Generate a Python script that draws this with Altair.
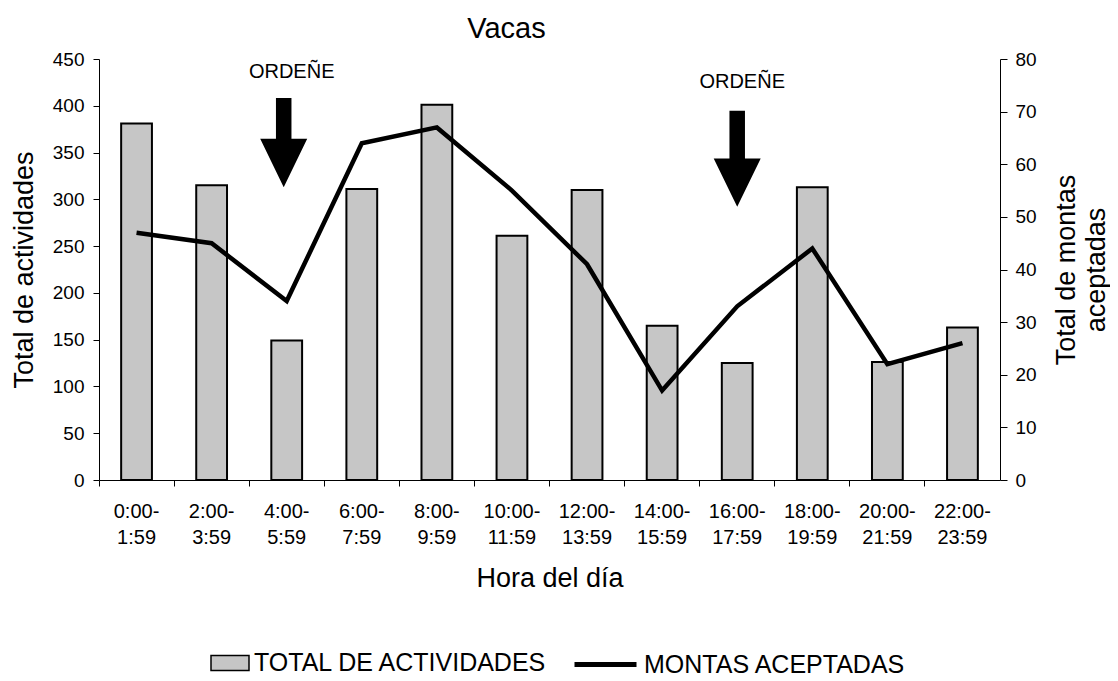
import altair as alt
import pandas as pd

FONT = "Liberation Sans"

# ---- data ----
hours = ["0:00-1:59", "2:00-3:59", "4:00-5:59", "6:00-7:59", "8:00-9:59",
         "10:00-11:59", "12:00-13:59", "14:00-15:59", "16:00-17:59",
         "18:00-19:59", "20:00-21:59", "22:00-23:59"]
total_actividades = [381, 315, 149, 311, 401, 261, 310, 165, 125, 313, 126, 163]
montas_aceptadas = [47, 45, 34, 64, 67, 55, 41, 17, 33, 44, 22, 26]
left_ticks = [0, 50, 100, 150, 200, 250, 300, 350, 400, 450]
right_ticks = [0, 10, 20, 30, 40, 50, 60, 70, 80]
bar_series = "TOTAL DE ACTIVIDADES"
line_series = "MONTAS ACEPTADAS"

# milking annotations (values on the left axis scale)
milking_hours = ["4:00-5:59", "16:00-17:59"]
milking_label = "ORDEÑE"
arrow_tip = [313, 292]
label_level = [436, 425]

df = pd.DataFrame({
    "hora": hours,
    "total": total_actividades,
    "montas": montas_aceptadas,
    "s1": [bar_series] * len(hours),
    "s2": [line_series] * len(hours),
})
ann = pd.DataFrame({
    "hora": milking_hours,
    "tip": arrow_tip,
    "lab": label_level,
    "txt": [milking_label] * len(milking_hours),
})

x_enc = alt.X(
    "hora:N",
    scale=alt.Scale(domain=hours, paddingInner=0, paddingOuter=0),
    axis=alt.Axis(
        title="Hora del día", bandPosition=0, labelAngle=0,
        labelExpr="[split(datum.label, '-')[0] + '-', split(datum.label, '-')[1]]",
        labelFont=FONT, labelFontSize=20, labelLineHeight=26, labelPadding=15,
        labelColor="black", labelOverlap=False, labelBound=False,
        tickSize=6, tickColor="black", domainColor="black",
        titleFont=FONT, titleFontSize=27, titleFontWeight="normal",
        titleColor="black", titlePadding=18,
    ),
)

left_scale = alt.Scale(domain=[0, 450], nice=False)

bars = alt.Chart(df).mark_bar(
    width=alt.RelativeBandSize(0.41), stroke="black", strokeWidth=2
).encode(
    x=x_enc,
    y=alt.Y("total:Q", scale=left_scale, axis=alt.Axis(
        values=left_ticks, title="Total de actividades", grid=False,
        labelFont=FONT, labelFontSize=19, labelPadding=9, labelColor="black",
        tickSize=6, tickColor="black", domainColor="black",
        titleFont=FONT, titleFontSize=27, titleFontWeight="normal",
        titleColor="black", titlePadding=14,
    )),
    fill=alt.Fill("s1:N", scale=alt.Scale(domain=[bar_series], range=["#c6c6c6"]),
                  legend=alt.Legend(
                      title=None, orient="none", legendX=111, legendY=584,
                      direction="horizontal", padding=0,
                      symbolType="M-1,-0.4H1V0.4H-1Z", symbolSize=1444,
                      symbolStrokeColor="black", symbolStrokeWidth=1.5,
                      labelFont=FONT, labelFontSize=25, labelColor="black",
                      labelLimit=600, labelOffset=4)),
)

line = alt.Chart(df).mark_line(strokeWidth=4.5).encode(
    x=x_enc,
    y=alt.Y("montas:Q", scale=alt.Scale(domain=[0, 80], nice=False), axis=alt.Axis(
        orient="right", values=right_ticks, title=["Total de montas", "aceptadas"],
        grid=False, labelFont=FONT, labelFontSize=19, labelPadding=8,
        labelColor="black", tickSize=7, tickColor="black", domainColor="black",
        titleFont=FONT, titleFontSize=27, titleFontWeight="normal",
        titleColor="black", titleAngle=270, titleBaseline="top",
        titleLineHeight=30, titlePadding=-13,
    )),
    stroke=alt.Stroke("s2:N", scale=alt.Scale(domain=[line_series], range=["black"]),
                      legend=alt.Legend(
                          title=None, orient="none", legendX=473, legendY=572,
                          direction="horizontal", padding=0,
                          symbolType="stroke", symbolSize=3844, symbolStrokeWidth=5,
                          labelFont=FONT, labelFontSize=25, labelColor="black",
                          labelLimit=600, labelOffset=5)),
)

ARROW_1 = "M-0.33,-3.79L0.33,-3.79L0.33,-2.06L1,-2.06L0,0L-1,-2.06L-0.33,-2.06Z"
ARROW_2 = "M-0.33,-4.09L0.33,-4.09L0.33,-2.06L1,-2.06L0,0L-1,-2.06L-0.33,-2.06Z"

arrow1 = alt.Chart(ann.iloc[[0]]).mark_point(
    shape=ARROW_1, filled=True, size=2209, color="black", opacity=1, xOffset=-3
).encode(x=x_enc, y=alt.Y("tip:Q", scale=left_scale, axis=None))

arrow2 = alt.Chart(ann.iloc[[1]]).mark_point(
    shape=ARROW_2, filled=True, size=2209, color="black", opacity=1
).encode(x=x_enc, y=alt.Y("tip:Q", scale=left_scale, axis=None))

labels = alt.Chart(ann).mark_text(
    font=FONT, fontSize=20, color="black", dx=5, baseline="middle", align="center"
).encode(x=x_enc, y=alt.Y("lab:Q", scale=left_scale, axis=None), text="txt:N")

chart = alt.layer(bars, line, arrow1, arrow2, labels).resolve_scale(
    y="independent"
).properties(
    width=901, height=421,
    autosize=alt.AutoSizeParams(type="none"),
    padding={"left": 91, "top": 51, "right": 110, "bottom": 200},
    title=alt.TitleParams("Vacas", font=FONT, fontSize=29, fontWeight="normal",
                          color="black", dx=-43, offset=6),
).configure_view(stroke=None)

chart.save("out.html", embed_options={"renderer": "svg", "actions": False})
